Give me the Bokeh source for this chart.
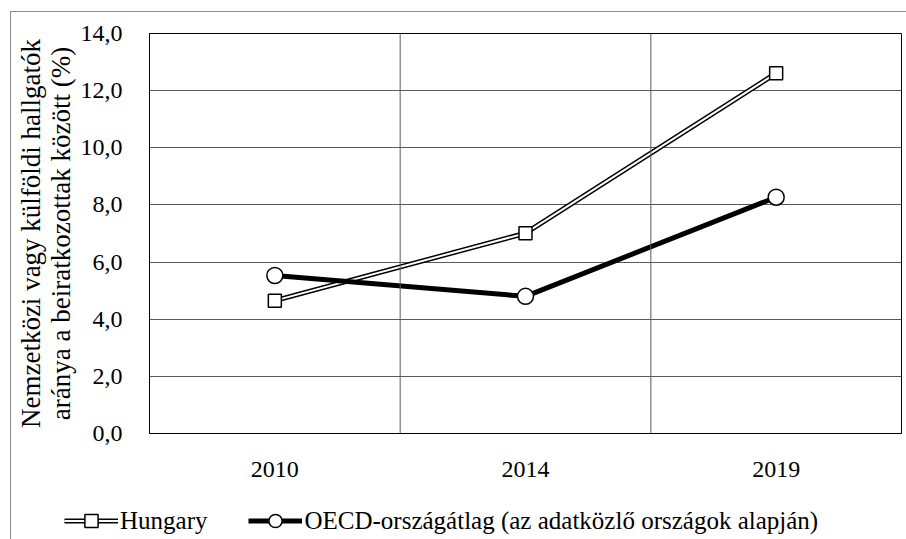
from bokeh.plotting import figure
from bokeh.models import Legend, LegendItem, Span, FixedTicker, CustomJSTickFormatter, Range1d, FactorRange
from bokeh.embed import file_html
from bokeh.resources import INLINE

years = ["2010", "2014", "2019"]
hungary = [4.65, 7.01, 12.61]
oecd = [5.53, 4.80, 8.27]
y_ticks = [0, 2, 4, 6, 8, 10, 12, 14]
series_names = ["Hungary", "OECD-országátlag (az adatközlő országok alapján)"]
y_title = "Nemzetközi vagy külföldi hallgatók\naránya a beiratkozottak között (%)"

FONT = "Liberation Serif"
BORDER = "1px solid #8c8c8c"


def style_hungary(fig, ys):
    a = fig.line(years, ys, line_color="black", line_width=5)
    b = fig.line(years, ys, line_color="white", line_width=2)
    c = fig.scatter(years, ys, marker="square", size=13, fill_color="white",
                    line_color="black", line_width=1.5)
    return [a, b, c]


def style_oecd(fig, ys):
    a = fig.line(years, ys, line_color="black", line_width=5)
    b = fig.scatter(years, ys, marker="circle", size=16, fill_color="white",
                    line_color="black", line_width=1.5)
    return [a, b]


# ---- main chart ----
p = figure(x_range=FactorRange(*years), y_range=Range1d(0, 14),
           width=896, height=473, output_backend="svg", toolbar_location=None,
           min_border_left=138, min_border_right=6, min_border_top=21, min_border_bottom=52,
           margin=(11, 0, 0, 10))
p.styles = {"border-left": BORDER, "border-top": BORDER}
p.outline_line_color = "black"
p.outline_line_width = 1
p.background_fill_color = "white"
p.border_fill_color = "white"

p.xgrid.visible = False
p.ygrid.ticker = FixedTicker(ticks=y_ticks)
p.ygrid.grid_line_color = "#5a5a5a"
p.ygrid.grid_line_width = 1
for loc in [1.0, 2.0]:
    p.add_layout(Span(location=loc, dimension="height", line_color="#5a5a5a", line_width=1))

p.yaxis.ticker = FixedTicker(ticks=y_ticks)
p.yaxis.formatter = CustomJSTickFormatter(code="return tick.toFixed(1).replace('.', ',');")
for ax in (p.xaxis[0], p.yaxis[0]):
    ax.axis_line_color = "black"
    ax.major_tick_line_color = None
    ax.minor_tick_line_color = None
    ax.major_label_text_font = FONT
    ax.major_label_text_font_size = "24px"
    ax.major_label_text_color = "black"
p.yaxis.major_label_standoff = 21
p.xaxis.major_label_standoff = 22
yax = p.yaxis[0]
yax.axis_label = y_title
yax.axis_label_text_font = FONT
yax.axis_label_text_font_size = "27px"
yax.axis_label_text_font_style = "normal"
yax.axis_label_text_line_height = 1.0
yax.axis_label_text_color = "black"
yax.axis_label_standoff = 2

style_hungary(p, hungary)
style_oecd(p, oecd)

# ---- legend strip below (same series, drawn outside its visible range) ----
lg = figure(x_range=FactorRange(*years), y_range=Range1d(100, 101),
            width=896, height=55, output_backend="svg", toolbar_location=None,
            x_axis_type=None, y_axis_type=None,
            min_border_left=0, min_border_right=0, min_border_top=0, min_border_bottom=0,
            margin=(0, 0, 0, 10))
lg.styles = {"border-left": BORDER}
lg.outline_line_color = None
lg.grid.visible = False
lg.background_fill_color = "white"
lg.border_fill_color = "white"
lh = style_hungary(lg, hungary)
lo = style_oecd(lg, oecd)

legend = Legend(items=[
    LegendItem(label=series_names[0], renderers=lh),
    LegendItem(label=series_names[1], renderers=lo),
], orientation="horizontal", location=(53, 2))
legend.glyph_width = 54
legend.glyph_height = 33
legend.label_standoff = 2
legend.spacing = 41
legend.padding = 2
legend.margin = 0
legend.border_line_color = None
legend.background_fill_alpha = 0
legend.label_text_font = FONT
legend.label_text_font_size = "25px"
legend.label_text_color = "black"
lg.add_layout(legend, "center")

open("out.html", "w").write(file_html([p, lg], INLINE))
